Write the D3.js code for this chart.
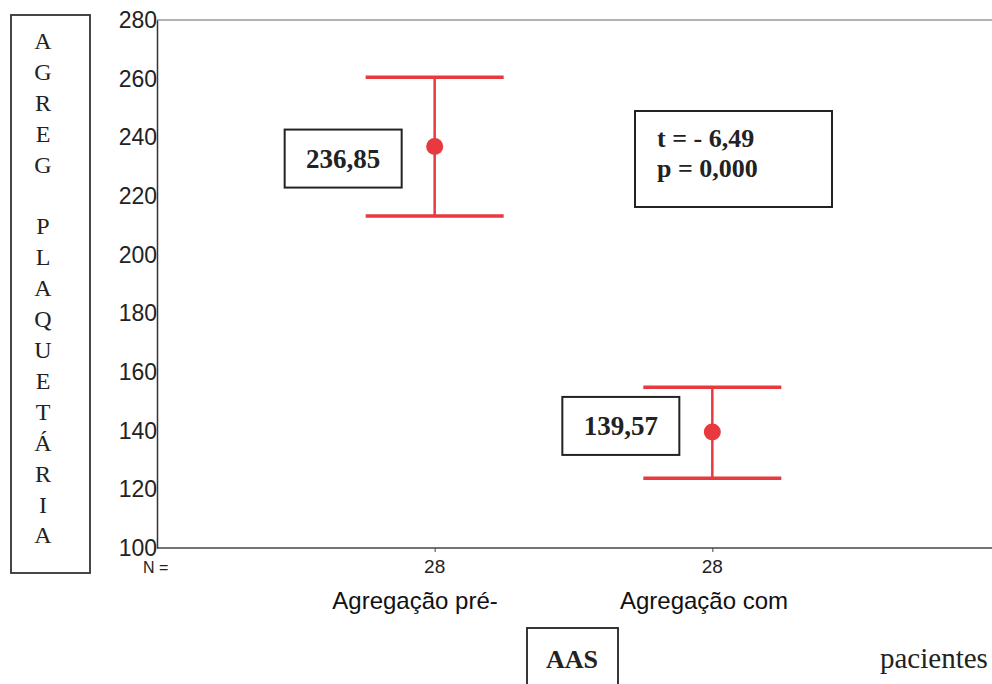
<!DOCTYPE html>
<html>
<head>
<meta charset="utf-8">
<script src="https://cdn.jsdelivr.net/npm/d3@7/dist/d3.min.js"></script>
<style>
  html, body { margin: 0; padding: 0; background: #fff; }
  svg { display: block; }
</style>
</head>
<body>
<svg id="chart" width="992" height="684"></svg>
<script>
// Platelet aggregation: mean with 95% CI, before and with AAS
const groups = ["Agregação pré-", "Agregação com"];
const nValues = [28, 28];
const means = [236.85, 139.57];
const lowerCI = [213.2, 123.8];
const upperCI = [260.5, 154.8];
const meanLabels = ["236,85", "139,57"];
const yTicks = [100, 120, 140, 160, 180, 200, 220, 240, 260, 280];
const yTitleLetters = ["A","G","R","E","G","","P","L","A","Q","U","E","T","Á","R","I","A"];
const statsLines = ["t = - 6,49", "p = 0,000"];

const svg = d3.select("#chart");
const red = "#e8393f";
const serif = "'Liberation Serif', 'Times New Roman', serif";
const sans = "'Liberation Sans', Arial, sans-serif";

const plot = { left: 157, right: 990, top: 20, bottom: 548 };

const y = d3.scaleLinear().domain([100, 280]).range([plot.bottom, plot.top]);
const x = d3.scaleLinear().domain([0, 3]).range([plot.left, plot.right]);
const xPos = i => x(i + 1);

// frame: top edge
svg.append("line")
  .attr("x1", plot.left).attr("x2", plot.right + 2)
  .attr("y1", plot.top).attr("y2", plot.top)
  .attr("stroke", "#666").attr("stroke-width", 1.2);

// y axis
const yAxis = svg.append("g")
  .attr("transform", `translate(${plot.left},0)`)
  .call(d3.axisLeft(y).tickValues(yTicks).tickSize(0).tickPadding(0));
yAxis.select(".domain").attr("stroke", "#333").attr("stroke-width", 1.5);
yAxis.selectAll("text")
  .attr("font-family", sans).attr("font-size", 23).attr("fill", "#222");

// x axis with small ticks at the groups
const xAxis = svg.append("g")
  .attr("transform", `translate(0,${plot.bottom})`)
  .call(d3.axisBottom(x).tickValues([1, 2]).tickSize(4).tickFormat(""));
xAxis.select(".domain").attr("stroke", "#444").attr("stroke-width", 1.5)
  .attr("d", `M${plot.left},0H${plot.right + 2}`);
xAxis.selectAll(".tick line").attr("stroke", "#444");

// N counts
svg.append("text").text("N =")
  .attr("x", 143).attr("y", 573)
  .attr("font-family", sans).attr("font-size", 16).attr("fill", "#222");
svg.selectAll("text.n").data(nValues).join("text")
  .attr("class", "n")
  .attr("x", (d, i) => xPos(i)).attr("y", 573)
  .attr("text-anchor", "middle")
  .attr("font-family", sans).attr("font-size", 19).attr("fill", "#222")
  .text(d => d);

// group names
const groupNameX = [415, 704];
svg.selectAll("text.group").data(groups).join("text")
  .attr("class", "group")
  .attr("x", (d, i) => groupNameX[i]).attr("y", 609)
  .attr("text-anchor", "middle")
  .attr("font-family", sans).attr("font-size", 24).attr("fill", "#111")
  .text(d => d);

// error bars
const capHalf = 69;
const bars = svg.selectAll("g.bar").data(means).join("g").attr("class", "bar");
bars.append("line")
  .attr("x1", (d, i) => xPos(i)).attr("x2", (d, i) => xPos(i))
  .attr("y1", (d, i) => y(upperCI[i])).attr("y2", (d, i) => y(lowerCI[i]))
  .attr("stroke", red).attr("stroke-width", 2.5);
bars.append("line")
  .attr("x1", (d, i) => xPos(i) - capHalf).attr("x2", (d, i) => xPos(i) + capHalf)
  .attr("y1", (d, i) => y(upperCI[i])).attr("y2", (d, i) => y(upperCI[i]))
  .attr("stroke", red).attr("stroke-width", 3.5);
bars.append("line")
  .attr("x1", (d, i) => xPos(i) - capHalf).attr("x2", (d, i) => xPos(i) + capHalf)
  .attr("y1", (d, i) => y(lowerCI[i])).attr("y2", (d, i) => y(lowerCI[i]))
  .attr("stroke", red).attr("stroke-width", 3.5);
bars.append("circle")
  .attr("cx", (d, i) => xPos(i)).attr("cy", d => y(d))
  .attr("r", 8.5).attr("fill", red);

// mean value boxes, offset vertically from each mean
const boxW = 117, boxH = 58, boxGap = 33;
const boxShift = [12, -6];
meanLabels.forEach((lab, i) => {
  const bx = xPos(i) - boxGap - boxW;
  const by = y(means[i]) - boxH / 2 + boxShift[i];
  svg.append("rect")
    .attr("x", bx).attr("y", by).attr("width", boxW).attr("height", boxH)
    .attr("fill", "#fff").attr("stroke", "#222").attr("stroke-width", 2);
  svg.append("text")
    .attr("x", bx + boxW / 2).attr("y", by + boxH / 2 + 9)
    .attr("text-anchor", "middle")
    .attr("font-family", serif).attr("font-weight", "bold").attr("font-size", 27)
    .attr("fill", "#222").text(lab);
});

// test statistics box
svg.append("rect")
  .attr("x", 635).attr("y", 111).attr("width", 197).attr("height", 96)
  .attr("fill", "#fff").attr("stroke", "#222").attr("stroke-width", 2);
svg.selectAll("text.stat").data(statsLines).join("text")
  .attr("class", "stat")
  .attr("x", 657).attr("y", (d, i) => 147 + i * 30)
  .attr("font-family", serif).attr("font-weight", "bold").attr("font-size", 26)
  .attr("fill", "#222").text(d => d);

// vertical y-axis title
svg.append("rect")
  .attr("x", 11).attr("y", 15).attr("width", 79).attr("height", 558)
  .attr("fill", "none").attr("stroke", "#333").attr("stroke-width", 1.8);
svg.selectAll("text.ytitle").data(yTitleLetters).join("text")
  .attr("class", "ytitle")
  .attr("x", 43)
  .attr("y", (d, i) => 49 + i * 30.9)
  .attr("text-anchor", "middle")
  .attr("font-family", serif).attr("font-size", 24).attr("fill", "#222")
  .text(d => d);

// AAS box and trailing caption word
svg.append("rect")
  .attr("x", 527).attr("y", 628).attr("width", 91).attr("height", 70)
  .attr("fill", "#fff").attr("stroke", "#222").attr("stroke-width", 1.8);
svg.append("text")
  .attr("x", 572).attr("y", 668).attr("text-anchor", "middle")
  .attr("font-family", serif).attr("font-weight", "bold").attr("font-size", 26)
  .attr("fill", "#222").text("AAS");
svg.append("text")
  .attr("x", 880).attr("y", 668)
  .attr("font-family", serif).attr("font-size", 29)
  .attr("fill", "#222").text("pacientes");
</script>
</body>
</html>
